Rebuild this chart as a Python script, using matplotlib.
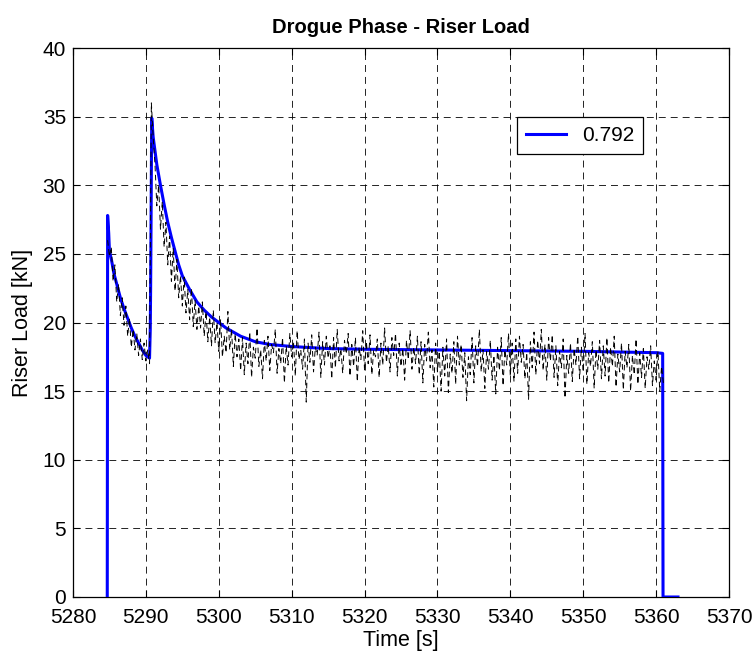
import numpy as np
import matplotlib
matplotlib.use("Agg")
import matplotlib.pyplot as plt

plt.rcParams['font.family'] = ['Liberation Sans', 'DejaVu Sans']
plt.rcParams['lines.scale_dashes'] = False

# Modell (blau)
model_t = [5284.7, 5284.75, 5284.9, 5285.0, 5285.3, 5285.6, 5286.0, 5286.5, 5287.0, 5287.5,
           5288.0, 5288.5, 5289.0, 5289.5, 5290.0, 5290.5, 5290.6, 5290.65, 5290.8, 5291.0,
           5291.5, 5292.0, 5292.5, 5293.0, 5293.5, 5294.0, 5294.5, 5295.0, 5296.0, 5297.0,
           5298.0, 5299.0, 5300.0, 5301.0, 5302.0, 5303.0, 5304.0, 5305.0, 5307.0, 5310.0,
           5315.0, 5320.0, 5330.0, 5340.0, 5350.0, 5360.0, 5360.9, 5360.95, 5363.0]
model_load = [0.0, 27.8, 26.5, 25.2, 24.5, 23.6, 22.8, 21.8, 21.0, 20.3,
              19.6, 19.0, 18.5, 18.0, 17.6, 17.4, 19.5, 22.5, 34.9, 33.5,
              31.5, 30.0, 28.6, 27.3, 26.2, 25.2, 24.2, 23.4, 22.4, 21.5,
              20.9, 20.4, 20.0, 19.6, 19.3, 19.0, 18.8, 18.6, 18.4, 18.25,
              18.1, 18.05, 18.0, 17.95, 17.9, 17.8, 17.75, 0.0, 0.0]

# Messung (schwarz gestrichelt), Abtastung 0.25 s ab 5284.75
meas_t0 = 5284.75
meas_dt = 0.25
meas_load = [
    26.0, 24.8, 25.5, 23.0, 24.2, 21.5, 22.8, 20.5, 21.8, 19.8, 21.2, 19.0,
    20.3, 18.2, 19.5, 18.0, 19.2, 17.6, 18.8, 17.3, 18.5, 17.2, 18.0, 17.0,
    36.0, 33.5, 31.5, 28.5, 30.0, 26.8, 28.8, 25.5, 27.3, 24.2,
    26.3, 23.0, 25.4, 22.3, 24.6, 21.8, 23.4, 21.2, 23.3, 20.7,
    22.4, 20.2, 22.5, 19.7, 21.6, 19.5, 21.2, 19.6, 21.5, 19.0,
    20.8, 18.6, 20.4, 18.3, 20.9, 18.5, 20.0, 17.9, 20.2, 17.5,
    19.0, 17.8, 20.8, 18.0, 19.5, 16.8, 19.2, 17.5, 18.8, 16.5,
    18.9, 16.2, 18.5, 17.0, 19.3, 16.0, 18.2, 17.4, 19.6, 16.8,
    18.0, 15.9, 18.7, 17.2, 19.0, 16.5, 18.4, 17.8, 19.5, 16.3,
    18.1, 17.0, 18.9, 15.6, 18.3, 16.9, 19.2, 17.5, 18.6, 16.1,
    19.4, 17.3, 18.0, 16.6, 18.8, 14.2, 18.5, 17.1, 19.1, 16.4,
    18.2, 17.6, 19.3, 16.0, 18.6, 16.9, 19.0, 17.4, 18.3, 15.9,
    18.9, 16.7, 19.5, 17.2, 18.1, 16.3, 18.7, 17.7, 19.2, 16.1,
    18.4, 16.8, 18.9, 15.7, 18.2, 17.3, 19.4, 16.5, 18.6, 17.0,
    19.1, 16.2, 18.0, 17.5, 18.8, 16.0, 18.5, 16.9, 19.6, 17.1,
    18.3, 16.4, 18.9, 17.6, 19.2, 16.1, 18.5, 16.8, 18.1, 15.8,
    18.7, 17.3, 19.4, 16.6, 18.2, 17.0, 19.0, 16.2, 18.6, 15.6,
    18.4, 17.2, 19.3, 16.7, 18.0, 15.3, 18.5, 16.4, 17.9, 15.0,
    18.2, 16.1, 18.8, 14.9, 17.7, 16.3, 18.6, 15.5, 19.0, 16.9,
    18.4, 16.0, 17.8, 14.3, 17.5, 16.2, 18.9, 15.6, 18.3, 16.8,
    19.5, 16.4, 18.0, 15.2, 17.9, 16.6, 18.7, 15.8, 17.6, 14.8,
    18.2, 16.5, 18.9, 15.4, 18.0, 16.9, 19.2, 16.1, 18.5, 15.7,
    18.8, 16.3, 19.0, 17.1, 18.4, 15.9, 17.8, 14.4, 18.6, 16.7,
    19.3, 16.2, 18.7, 17.0, 19.5, 16.5, 18.4, 15.8, 18.9, 17.2,
    19.1, 16.0, 18.3, 15.4, 17.9, 16.7, 18.8, 14.5, 17.6, 16.3,
    18.5, 15.7, 18.1, 16.9, 19.0, 15.9, 18.2, 16.4, 19.2, 15.5,
    17.8, 16.8, 18.6, 15.2, 18.0, 16.6, 18.7, 15.9, 18.3, 16.1,
    18.9, 15.6, 18.2, 16.8, 19.0, 15.3, 17.7, 16.4, 18.5, 15.1,
    17.9, 16.7, 18.4, 15.0, 17.6, 16.2, 18.8, 15.5, 17.8, 16.0,
    18.1, 15.2, 17.5, 16.6, 18.3, 15.4, 17.2, 15.8, 17.9, 15.0,
    16.8, 15.6,
]
meas_t = meas_t0 + meas_dt * np.arange(len(meas_load))

x_ticks = [5280, 5290, 5300, 5310, 5320, 5330, 5340, 5350, 5360, 5370]
y_ticks = [0, 5, 10, 15, 20, 25, 30, 35, 40]

fig = plt.figure(figsize=(7.53, 6.6), dpi=100)
ax = fig.add_axes([73 / 753, 63 / 660, 656 / 753, 549 / 660])

ax.plot(model_t, model_load, color=(0, 0, 1), lw=2.2, label="0.792", zorder=3)
ax.plot(meas_t, meas_load, color='k', lw=0.7, ls=(0, (4, 2.5)), zorder=4)

ax.set_xlim(5280, 5370)
ax.set_ylim(0, 40)
ax.set_xticks(x_ticks)
ax.set_yticks(y_ticks)
ax.tick_params(direction='in', top=True, right=True, length=5, width=0.8,
               labelsize=15)
ax.tick_params(axis='x', pad=8)
ax.tick_params(axis='y', pad=5)
ax.grid(True, color='k', lw=0.6, ls=(0, (5, 3.6)))
for s in ax.spines.values():
    s.set_linewidth(0.9)

ax.set_title("Drogue Phase - Riser Load", fontsize=14.5, fontweight='bold', pad=11)
ax.set_xlabel("Time [s]", fontsize=15.5, labelpad=2)
ax.set_ylabel("Riser Load [kN]", fontsize=15.5, labelpad=7)

leg = ax.legend(loc='upper left', bbox_to_anchor=(0.677, 0.874), borderaxespad=0,
                fontsize=15, handlelength=1.95, handletextpad=0.75, borderpad=0.42,
                fancybox=False, framealpha=1, edgecolor='k')
leg.get_frame().set_linewidth(0.9)

fig.savefig("out.png", dpi=100)
